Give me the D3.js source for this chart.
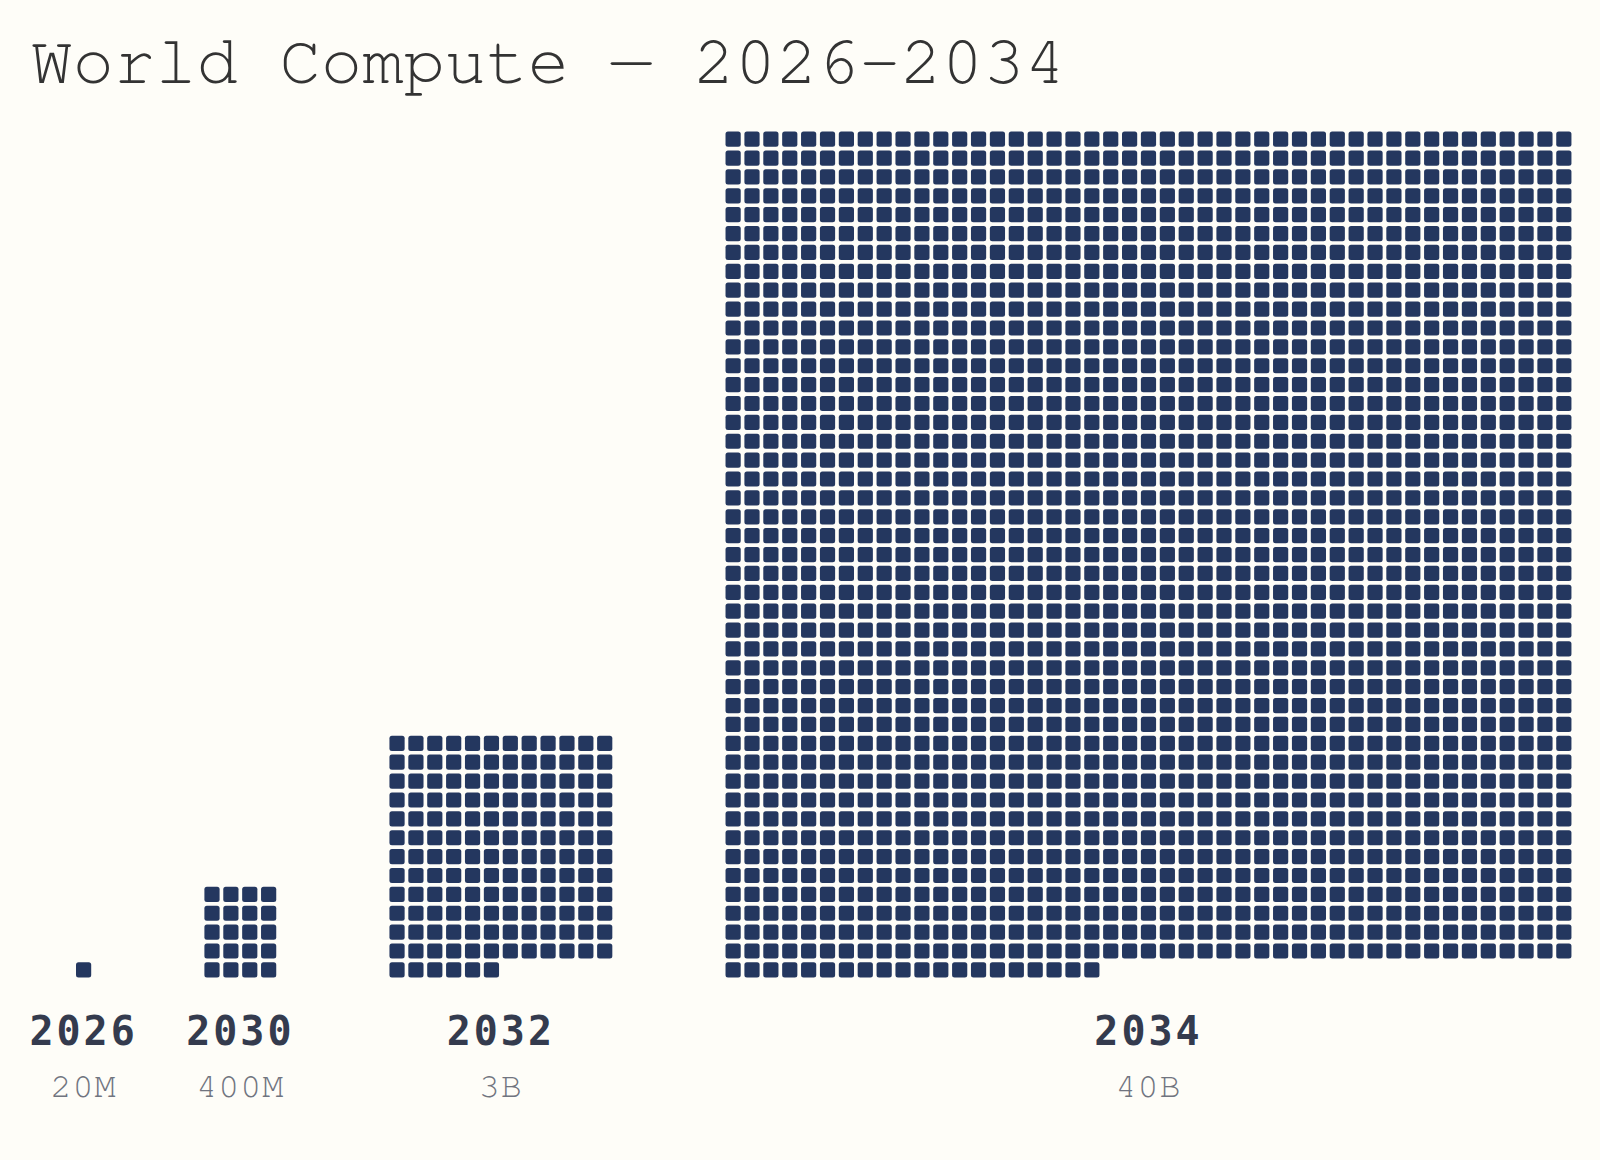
<!DOCTYPE html>
<html lang="en">
<head>
  <meta charset="UTF-8" />
  <script src="https://d3js.org/d3.v7.min.js"></script>
  <title>World Compute 2026-2034</title>
  <style>
    html, body { margin: 0; padding: 0; background: #fefdf8; }
    .title { font-family: "Nimbus Mono PS", "Nimbus Mono L", "FreeMono", "Courier 10 Pitch", Courier, "Courier New", monospace; fill: #333; }
    .year { font-family: "DejaVu Sans Mono", monospace; font-weight: bold; fill: #343b4e; }
    .val { font-family: "Nimbus Mono PS", "Nimbus Mono L", "FreeMono", "Courier 10 Pitch", Courier, "Courier New", monospace; fill: #70747f; }
  </style>
</head>
<body>
  <script>
    // data
    var years = ["2026", "2030", "2032", "2034"];
    var values = [20e6, 400e6, 3e9, 40e9];
    var valueLabels = ["20M", "400M", "3B", "40B"];
    var unitValue = 20e6; // one square

    var width = 1600, height = 1160;
    var pitch = 18.88, cell = 15.2;
    var groupGap = 113.2;
    var left = 76, base = 977.5;

    var svg = d3.select("body").append("svg")
      .attr("width", width)
      .attr("height", height)
      .style("background", "#fefdf8");

    svg.append("text")
      .attr("class", "title")
      .attr("x", 31)
      .attr("y", 83)
      .style("font-size", "69px")
      .text("World Compute \u2014 2026-2034");

    // each group: count of squares, grid columns, rows
    var groups = years.map(function (y, i) {
      var n = Math.round(values[i] / unitValue);
      var cols = Math.round(Math.sqrt(n));
      var rows = Math.ceil(n / cols);
      return { year: y, label: valueLabels[i], n: n, cols: cols, rows: rows };
    });

    var x0 = left;
    groups.forEach(function (g) {
      g.x0 = x0;
      g.w = (g.cols - 1) * pitch + cell;
      x0 += g.w + groupGap;
    });

    groups.forEach(function (g) {
      var xs = d3.scaleLinear().domain([0, g.cols]).range([g.x0, g.x0 + g.cols * pitch]);
      var ys = d3.scaleLinear().domain([0, g.rows]).range([base - g.rows * pitch + (pitch - cell), base + (pitch - cell)]);

      var gg = svg.append("g");
      gg.selectAll("rect")
        .data(d3.range(g.n))
        .enter()
        .append("rect")
        .attr("x", function (i) { return xs(i % g.cols); })
        .attr("y", function (i) { return ys(Math.floor(i / g.cols)); })
        .attr("width", cell)
        .attr("height", cell)
        .attr("rx", 2.5)
        .style("fill", "#24375f");

      var cx = g.x0 + g.w / 2;
      gg.append("text")
        .attr("class", "year")
        .attr("x", cx)
        .attr("y", 1045)
        .attr("text-anchor", "middle")
        .style("font-size", "40px")
        .style("letter-spacing", "3px")
        .text(g.year);

      gg.append("text")
        .attr("class", "val")
        .attr("x", cx)
        .attr("y", 1097)
        .attr("text-anchor", "middle")
        .style("font-size", "35px")
        .style("letter-spacing", "1px")
        .text(g.label);
    });
  </script>
</body>
</html>
